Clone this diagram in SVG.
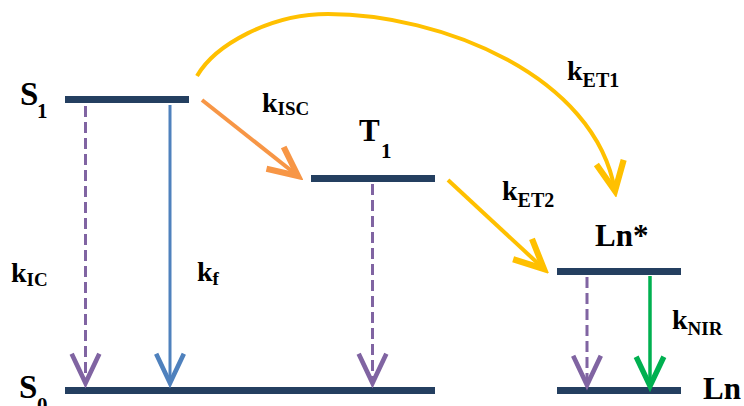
<svg xmlns="http://www.w3.org/2000/svg" width="744" height="406" viewBox="0 0 744 406">
<defs>
<style>
.bar{fill:#243F60}
text{font-family:"Liberation Serif","DejaVu Serif",serif;font-weight:bold;fill:#000}
.big{font-size:33px}
.k{font-size:28px}
.sub{font-size:19px}
.line{fill:none;stroke-linecap:butt}
.dash{stroke:#8064A2;stroke-width:3;stroke-dasharray:11 5}
</style>
<marker id="aP" markerUnits="userSpaceOnUse" markerWidth="40" markerHeight="40" viewBox="-22 -12 26 24" refX="0" refY="0" orient="auto"><path d="M-19,-9 L0,0 L-19,9" fill="none" stroke="#8064A2" stroke-width="3"/></marker>
<marker id="aB" markerUnits="userSpaceOnUse" markerWidth="40" markerHeight="40" viewBox="-22 -12 26 24" refX="0" refY="0" orient="auto"><path d="M-19,-9 L0,0 L-19,9" fill="none" stroke="#4F81BD" stroke-width="3"/></marker>
<marker id="aG" markerUnits="userSpaceOnUse" markerWidth="40" markerHeight="40" viewBox="-22 -12 26 24" refX="0" refY="0" orient="auto"><path d="M-19,-9 L0,0 L-19,9" fill="none" stroke="#00B050" stroke-width="3.5"/></marker>
<marker id="aO" markerUnits="userSpaceOnUse" markerWidth="40" markerHeight="40" viewBox="-22 -12 26 24" refX="0" refY="0" orient="auto"><path d="M-19,-9 L0,0 L-19,9" fill="none" stroke="#F79646" stroke-width="4"/></marker>
<marker id="aY" markerUnits="userSpaceOnUse" markerWidth="40" markerHeight="40" viewBox="-22 -12 26 24" refX="0" refY="0" orient="auto"><path d="M-19,-9 L0,0 L-19,9" fill="none" stroke="#FFC000" stroke-width="4"/></marker>
</defs>
<rect width="744" height="406" fill="#fff"/>

<g id="S1">
<rect class="bar" x="65" y="96" width="124" height="7"/>
<text class="big" x="20" y="105">S</text>
<text class="sub" x="37" y="118" style="font-size:21px">1</text>
</g>
<g id="T1">
<rect class="bar" x="311" y="175" width="124" height="7"/>
<text x="359" y="141" style="font-size:31px">T</text>
<text class="sub" x="381" y="158" style="font-size:21px">1</text>
</g>
<g id="LnStar">
<rect class="bar" x="557" y="268" width="124" height="7"/>
<text x="595" y="246" style="font-size:31px">Ln*</text>
</g>
<g id="S0">
<rect class="bar" x="65" y="387" width="370" height="7"/>
<text class="big" x="19" y="398">S</text>
<text class="sub" x="37" y="412" style="font-size:21px">0</text>
</g>
<g id="Ln">
<rect class="bar" x="557" y="387" width="124" height="7"/>
<text x="703" y="399" style="font-size:31px">Ln</text>
</g>

<g id="connectors">
<line class="line dash" x1="85.5" y1="106" x2="85.5" y2="383" marker-end="url(#aP)"/>
<line class="line" x1="170" y1="105" x2="170" y2="383" stroke="#4F81BD" stroke-width="3" marker-end="url(#aB)"/>
<line class="line dash" x1="372.5" y1="184" x2="372.5" y2="383" marker-end="url(#aP)"/>
<line class="line dash" x1="587" y1="277" x2="587" y2="385" marker-end="url(#aP)"/>
<line class="line" x1="650" y1="276" x2="650" y2="386" stroke="#00B050" stroke-width="3.5" marker-end="url(#aG)"/>
<line class="line" x1="202" y1="100" x2="298" y2="176" stroke="#F79646" stroke-width="4" marker-end="url(#aO)"/>
<line class="line" x1="448" y1="180" x2="544" y2="269" stroke="#FFC000" stroke-width="4" marker-end="url(#aY)"/>
<path class="line" d="M197,76 C215,45 270,14 328,14 C440,14 595,75 615,191" stroke="#FFC000" stroke-width="4" marker-end="url(#aY)"/>
</g>

<g id="labels">
<text class="k" x="262" y="112">k<tspan class="sub" dy="3">ISC</tspan></text>
<text class="k" x="567" y="80">k<tspan class="sub" dy="7" style="font-size:20px">ET1</tspan></text>
<text class="k" x="502" y="200">k<tspan class="sub" dy="7" style="font-size:20px">ET2</tspan></text>
<text class="k" x="11" y="282">k<tspan class="sub" dy="4">IC</tspan></text>
<text class="k" x="197" y="281">k<tspan class="sub" dy="4">f</tspan></text>
<text class="k" x="672" y="329">k<tspan class="sub" dy="6">NIR</tspan></text>
</g>
</svg>
